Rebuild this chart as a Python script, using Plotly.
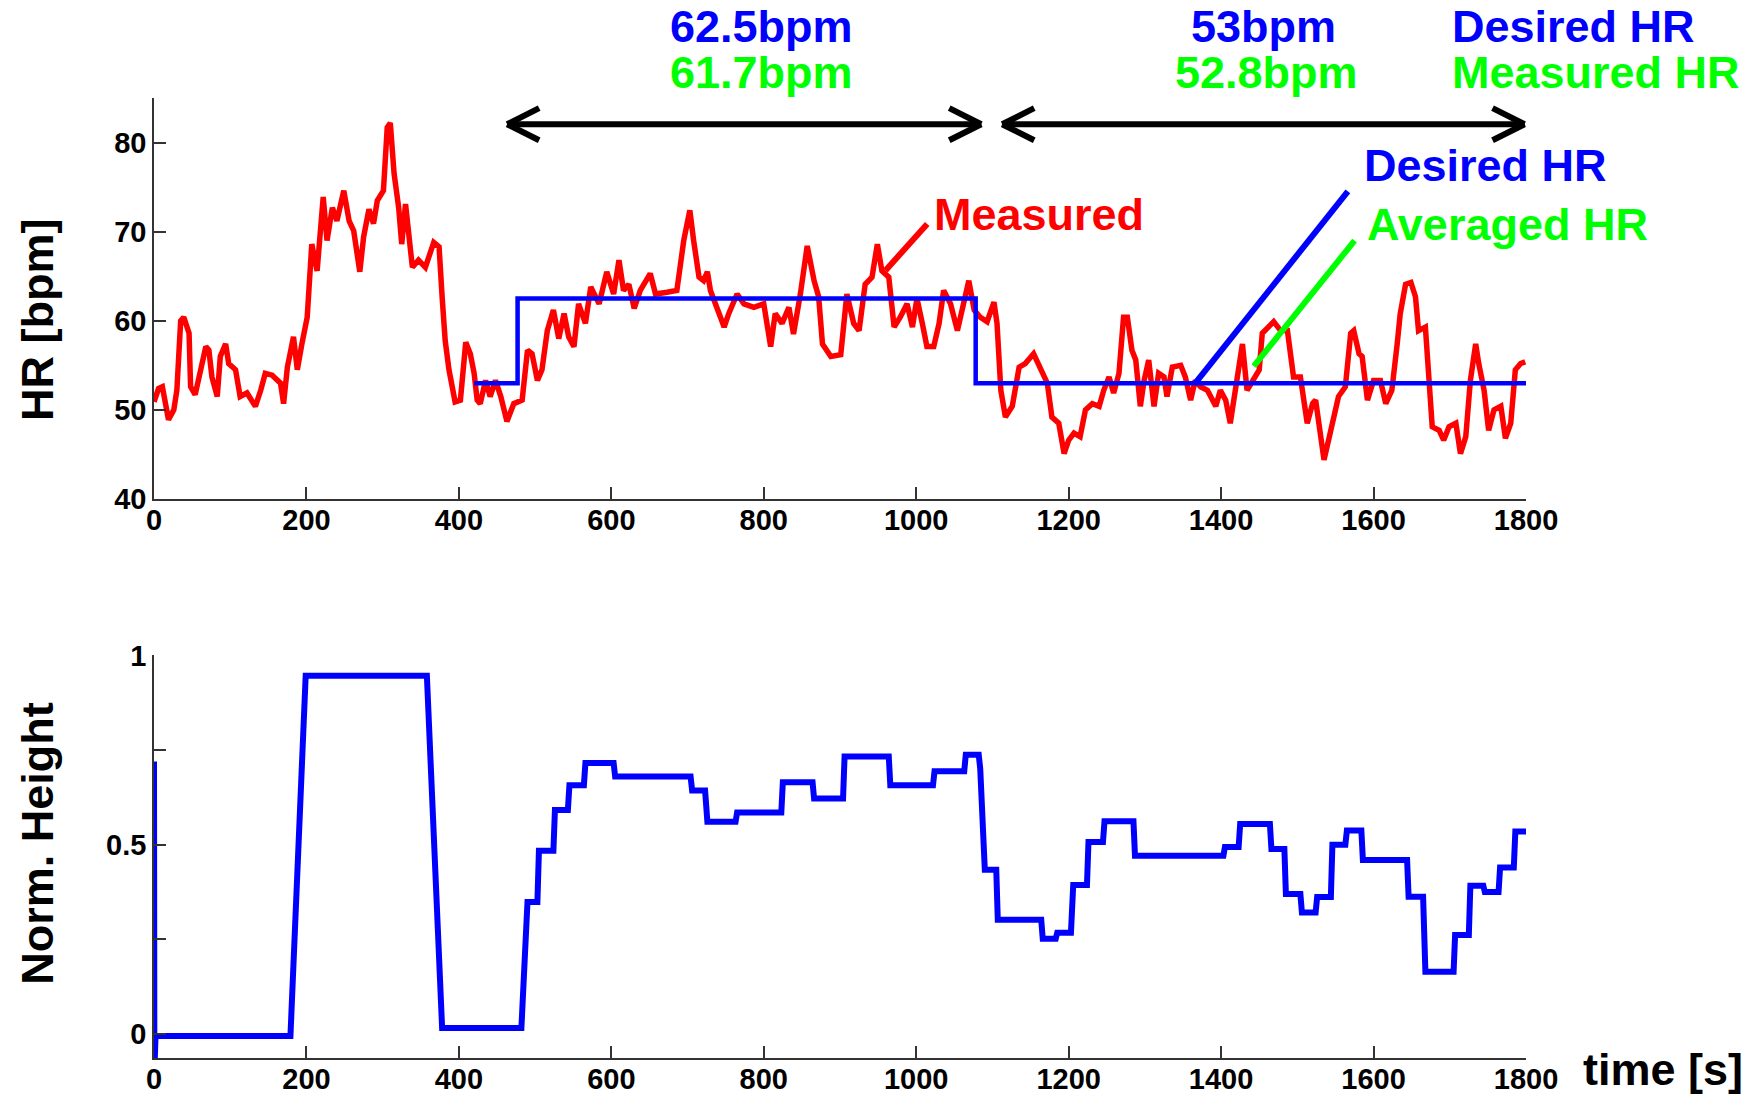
import plotly.graph_objects as go

# ---------------- data ----------------
hr_t = [0, 6, 11, 19, 26, 30, 35, 39, 46, 48, 54, 61, 68, 72, 76, 83, 87, 94, 98, 107,
        113, 122, 133, 140, 146, 155, 166, 170, 175, 183, 188, 194, 201, 207, 214, 222, 227, 234, 240, 249,
        256, 262, 270, 275, 282, 288, 293, 301, 306, 310, 315, 321, 325, 330, 334, 339, 347, 356, 367, 374,
        378, 382, 387, 395, 402, 409, 415, 420, 424, 428, 435, 441, 448, 455, 463, 472, 483, 490, 496, 503,
        509, 516, 524, 531, 538, 544, 551, 557, 566, 573, 584, 594, 603, 610, 616, 623, 630, 638, 651, 658,
        673, 686, 695, 703, 708, 715, 721, 726, 730, 737, 748, 754, 765, 774, 787, 800, 809, 815, 824, 833,
        839, 848, 857, 866, 872, 877, 888, 901, 909, 918, 925, 933, 942, 949, 955, 964, 971, 979, 988, 995,
        1001, 1008, 1014, 1023, 1030, 1036, 1045, 1054, 1062, 1069, 1076, 1084, 1093, 1102, 1106, 1111, 1117, 1126, 1135, 1143,
        1154, 1163, 1172, 1178, 1187, 1194, 1200, 1207, 1215, 1222, 1231, 1240, 1246, 1253, 1259, 1266, 1272, 1277, 1283, 1288,
        1294, 1299, 1305, 1312, 1318, 1325, 1329, 1336, 1347, 1353, 1360, 1366, 1373, 1382, 1393, 1399, 1406, 1412, 1421, 1428,
        1434, 1441, 1450, 1454, 1463, 1469, 1478, 1487, 1495, 1504, 1513, 1520, 1524, 1528, 1535, 1541, 1548, 1554, 1563, 1570,
        1574, 1581, 1585, 1592, 1600, 1609, 1616, 1624, 1631, 1635, 1642, 1649, 1655, 1659, 1668, 1673, 1677, 1686, 1692, 1699,
        1708, 1714, 1721, 1727, 1734, 1738, 1745, 1751, 1758, 1767, 1773, 1780, 1786, 1793, 1799]
hr_v = [50.9, 52.4, 52.6, 48.9, 50.0, 52.2, 60.0, 60.4, 58.6, 52.6, 51.7, 54.5, 57.1, 56.7, 53.7, 51.5, 56.0, 57.4, 55.2, 54.5,
        51.5, 51.9, 50.4, 52.2, 54.1, 53.9, 53.0, 50.7, 54.8, 58.2, 54.5, 57.4, 60.4, 68.6, 65.6, 73.9, 69.0, 72.7, 71.2, 74.6,
        71.2, 70.1, 65.5, 69.4, 72.5, 70.9, 73.5, 74.6, 81.7, 82.2, 76.5, 72.7, 68.6, 73.1, 69.4, 66.0, 66.8, 66.0, 68.8, 68.3,
        62.7, 57.8, 54.5, 50.9, 51.1, 57.6, 56.3, 54.1, 51.1, 50.7, 53.3, 51.5, 53.3, 51.5, 48.7, 50.7, 51.1, 56.7, 56.3, 53.3,
        54.5, 58.9, 61.2, 58.0, 60.8, 58.2, 57.1, 61.9, 59.7, 63.8, 61.9, 65.5, 63.0, 66.8, 63.4, 64.1, 61.4, 63.4, 65.3, 63.0,
        63.2, 63.4, 69.0, 72.4, 69.0, 64.9, 64.5, 65.5, 63.4, 61.9, 59.3, 60.8, 63.0, 61.9, 61.5, 61.9, 57.1, 60.8, 59.7, 61.5,
        58.5, 63.0, 68.4, 64.5, 62.7, 57.4, 56.0, 56.2, 63.0, 59.7, 58.9, 64.1, 64.9, 68.6, 65.6, 64.9, 59.3, 60.4, 61.9, 59.3,
        62.5, 59.7, 57.1, 57.1, 59.7, 63.4, 61.9, 58.9, 62.3, 64.5, 61.2, 60.4, 59.9, 62.1, 59.7, 52.2, 49.2, 50.4, 54.8, 55.2,
        56.3, 54.8, 53.0, 49.2, 48.5, 45.1, 46.6, 47.4, 47.0, 50.0, 50.7, 50.4, 52.2, 53.7, 51.9, 54.1, 60.4, 60.4, 56.7, 55.6,
        50.4, 53.3, 55.6, 50.4, 54.1, 53.7, 51.5, 54.8, 55.0, 53.7, 51.1, 53.3, 52.6, 52.2, 50.4, 52.2, 51.1, 48.5, 54.1, 57.4,
        52.2, 53.3, 54.5, 58.6, 59.3, 59.9, 58.9, 58.9, 53.7, 53.7, 48.5, 50.7, 51.1, 48.5, 44.4, 46.6, 49.2, 51.5, 52.6, 58.6,
        58.9, 56.3, 56.0, 51.1, 53.3, 53.3, 50.7, 52.2, 57.4, 60.8, 64.1, 64.3, 62.7, 58.9, 59.3, 53.0, 48.1, 47.7, 46.6, 48.1,
        48.5, 45.1, 47.0, 53.3, 57.4, 55.2, 52.2, 47.7, 50.0, 50.4, 46.8, 48.5, 54.5, 55.2, 55.4]

desired_t = [420, 477, 477, 1078, 1078, 1800]
desired_v = [53, 53, 62.5, 62.5, 53, 53]

norm_t = [0, 0.5, 2, 179, 199, 358, 378, 482, 490, 503, 505, 524, 526, 543, 545, 564, 566, 603, 605, 704,
          706, 723, 726, 763, 765, 823, 825, 864, 866, 904, 906, 964, 966, 1022, 1024, 1063, 1065, 1082, 1084, 1090,
          1105, 1107, 1164, 1166, 1183, 1185, 1203, 1206, 1224, 1226, 1245, 1247, 1285, 1287, 1403, 1405, 1423, 1425, 1464, 1466,
          1483, 1485, 1504, 1506, 1524, 1526, 1544, 1546, 1563, 1565, 1584, 1586, 1644, 1646, 1665, 1668, 1705, 1707, 1725, 1727,
          1744, 1746, 1764, 1766, 1784, 1786, 1800]
norm_h = [0.72, -0.1, -0.005, -0.005, 0.946, 0.946, 0.016, 0.016, 0.349, 0.349, 0.484, 0.484, 0.592, 0.592, 0.657, 0.657, 0.716, 0.716, 0.680, 0.680,
          0.643, 0.643, 0.561, 0.561, 0.585, 0.585, 0.665, 0.665, 0.622, 0.622, 0.733, 0.733, 0.657, 0.657, 0.694, 0.694, 0.738, 0.738, 0.70, 0.434,
          0.434, 0.302, 0.302, 0.252, 0.252, 0.268, 0.268, 0.394, 0.394, 0.507, 0.507, 0.562, 0.562, 0.471, 0.471, 0.494, 0.494, 0.555, 0.555, 0.489,
          0.489, 0.370, 0.370, 0.321, 0.321, 0.362, 0.362, 0.50, 0.50, 0.538, 0.538, 0.460, 0.460, 0.363, 0.363, 0.165, 0.165, 0.262, 0.262, 0.392,
          0.392, 0.375, 0.375, 0.44, 0.44, 0.535, 0.535]

x_ticks = list(range(0, 1801, 200))
hr_ticks = [40, 50, 60, 70, 80]
h_ticks = [0, 0.25, 0.5, 0.75, 1]
h_ticktext = ["0", "", "0.5", "", "1"]

# ---------------- layout helpers ----------------
W, H = 1752, 1095
L, R = 153.5, 1525.7
T, B = 98.3, 1058.3


def px(x):
    return (x - L) / (R - L)


def py(y):
    return (B - y) / (B - T)


FONT = "Liberation Sans, Arial, Helvetica, sans-serif"
BLUE = "#0000FF"
GREEN = "#00FF00"
RED = "#FF0000"
AX = "#333333"

fig = go.Figure()
fig.add_trace(go.Scatter(x=hr_t, y=hr_v, mode="lines", line=dict(color=RED, width=5.5),
                         xaxis="x", yaxis="y", showlegend=False))
fig.add_trace(go.Scatter(x=desired_t, y=desired_v, mode="lines", line=dict(color=BLUE, width=4.5),
                         xaxis="x", yaxis="y", showlegend=False))
fig.add_trace(go.Scatter(x=norm_t, y=norm_h, mode="lines", line=dict(color=BLUE, width=6),
                         xaxis="x2", yaxis="y2", showlegend=False))

tickfont = dict(family=FONT, size=29, color="black", weight="bold")
common = dict(showgrid=False, zeroline=False, showline=True, linecolor=AX, linewidth=1.5,
              ticks="inside", ticklen=12, tickwidth=1.5, tickcolor=AX, tickfont=tickfont,
              mirror=False, automargin=False)

fig.update_layout(
    width=W, height=H, autosize=False,
    margin=dict(l=L, r=W - R, t=T, b=H - B, autoexpand=False),
    paper_bgcolor="white", plot_bgcolor="white",
    xaxis=dict(domain=[0, 1], range=[0, 1800], anchor="y", tickvals=x_ticks,
               ticklabelstandoff=-6, **common),
    yaxis=dict(domain=[py(499.3), 1], range=[40, 85], anchor="x", tickvals=hr_ticks, **common),
    xaxis2=dict(domain=[0, 1], range=[0, 1800], anchor="y2", tickvals=x_ticks,
                ticklabelstandoff=-6, **common),
    yaxis2=dict(domain=[0, py(655.7)], range=[-0.063, 1], anchor="x2", tickvals=h_ticks,
                ticktext=h_ticktext, **common),
)

# ---------------- double arrows (chevron heads) ----------------
arrow_y = 82.06
arrows = [(463.3, 1085.3), (1112.8, 1798.1)]
hdx, hdy = 42, 1.8
shapes = []
for a, b in arrows:
    shapes.append(dict(type="line", xref="x", yref="y", x0=a, y0=arrow_y, x1=b, y1=arrow_y,
                       line=dict(color="black", width=6)))
    for tip, s in ((a, 1), (b, -1)):
        for d in (1, -1):
            shapes.append(dict(type="line", xref="x", yref="y", x0=tip, y0=arrow_y,
                               x1=tip + s * hdx, y1=arrow_y + d * hdy,
                               line=dict(color="black", width=6)))

# pointer lines
pointers = [
    (1014.4, 70.87, 959.7, 65.65, RED),
    (1566.3, 74.52, 1366.4, 53.04, BLUE),
    (1575.1, 69.0, 1442.9, 54.91, GREEN),
]
for x0, y0, x1, y1, c in pointers:
    shapes.append(dict(type="line", xref="x", yref="y", x0=x0, y0=y0, x1=x1, y1=y1,
                       line=dict(color=c, width=6)))
fig.update_layout(shapes=shapes)

# ---------------- texts ----------------
big = 45


def txt(text, x, y, color, anchor="center", angle=0, size=big):
    return dict(text=text, x=px(x), y=py(y), xref="paper", yref="paper", showarrow=False,
                xanchor=anchor, yanchor="middle", textangle=angle,
                font=dict(family=FONT, size=size, color=color, weight="bold"))


anns = [
    txt("62.5bpm", 761, 26.8, BLUE),
    txt("61.7bpm", 761, 73, GREEN),
    txt("53bpm", 1263, 26.8, BLUE),
    txt("52.8bpm", 1266, 73, GREEN),
    txt("Desired HR", 1450, 26.8, BLUE, "left"),
    txt("Measured HR", 1450, 73, GREEN, "left"),
    txt("Desired HR", 1362, 166, BLUE, "left"),
    txt("Averaged HR", 1365, 225, GREEN, "left"),
    txt("Measured", 932, 215, RED, "left"),
    txt("time [s]", 1581, 1070, "black", "left"),
    txt("HR [bpm]", 37, 320.7, "black", "center", -90),
    txt("Norm. Height", 37, 843.6, "black", "center", -90),
]
fig.update_layout(annotations=anns)

fig.write_html("out.html")
